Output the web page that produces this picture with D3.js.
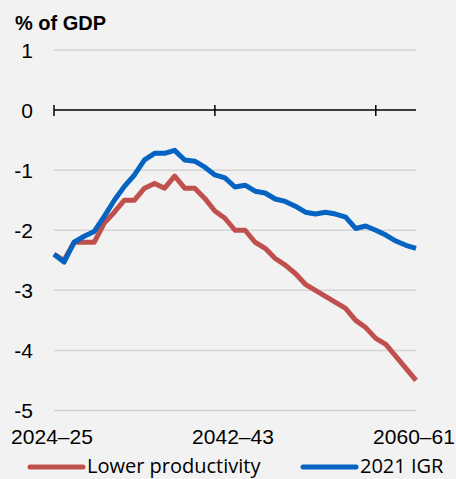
<!DOCTYPE html>
<html>
<head>
<meta charset="utf-8">
<script src="https://cdn.jsdelivr.net/npm/d3@7"></script>
<style>
	body { margin: 0; background: #f2f2f2; }
	svg { display: block; }
</style>
</head>
<body>
<svg id="chart" width="456" height="479"></svg>
<script>
const years = d3.range(2024, 2061).map(y => `${y}–${String((y + 1) % 100).padStart(2, "0")}`);
const lowerProductivity = [
	-2.4, -2.5, -2.2, -2.2, -2.2, -1.88, -1.7, -1.5, -1.5, -1.3,
	-1.22, -1.3, -1.1, -1.3, -1.3, -1.47, -1.68, -1.8, -2.0, -2.0,
	-2.2, -2.3, -2.47, -2.58, -2.72, -2.9, -3.0, -3.1, -3.2, -3.3,
	-3.5, -3.62, -3.8, -3.9, -4.1, -4.3, -4.5
];
const igr2021 = [
	-2.4, -2.53, -2.2, -2.1, -2.02, -1.77, -1.5, -1.27, -1.08, -0.83,
	-0.72, -0.72, -0.67, -0.83, -0.85, -0.95, -1.08, -1.13, -1.28, -1.25,
	-1.35, -1.38, -1.48, -1.52, -1.6, -1.7, -1.73, -1.7, -1.73, -1.78,
	-1.97, -1.93, -2.0, -2.08, -2.18, -2.25, -2.3
];
const yTicks = [1, 0, -1, -2, -3, -4, -5];
const xLabelYears = ["2024–25", "2042–43", "2060–61"];
const xTickYears = ["2024–25", "2040–41", "2056–57"];
const seriesNames = ["Lower productivity", "2021 IGR"];

const red = "#c0504d";
const blue = "#0563c1";

const svg = d3.select("#chart");
const x = d3.scalePoint().domain(years).range([54, 416]);
const y = d3.scaleLinear().domain([-5, 1]).range([410.5, 50]);

// gridlines
svg.append("g")
	.selectAll("line")
	.data(yTicks.filter(d => d !== 0))
	.join("line")
	.attr("x1", 54).attr("x2", 416)
	.attr("y1", d => y(d)).attr("y2", d => y(d))
	.attr("stroke", "#d4d4d4")
	.attr("stroke-width", 1.5);

// y labels
svg.append("g")
	.selectAll("text")
	.data(yTicks)
	.join("text")
	.attr("x", 33)
	.attr("y", d => y(d))
	.attr("dy", "0.36em")
	.attr("text-anchor", "end")
	.attr("font-family", "Liberation Sans, Arial, sans-serif")
	.attr("font-size", 21)
	.attr("fill", "#000")
	.text(d => d);

// zero axis with ticks
svg.append("line")
	.attr("x1", 54).attr("x2", 416)
	.attr("y1", y(0)).attr("y2", y(0))
	.attr("stroke", "#000").attr("stroke-width", 1.5);
svg.append("g")
	.selectAll("line")
	.data(xTickYears)
	.join("line")
	.attr("x1", d => x(d)).attr("x2", d => x(d))
	.attr("y1", y(0) - 5).attr("y2", y(0) + 6)
	.attr("stroke", "#000").attr("stroke-width", 1.5);

// x labels
svg.append("g")
	.selectAll("text")
	.data(xLabelYears)
	.join("text")
	.attr("x", d => x(d) - 2)
	.attr("y", 444)
	.attr("text-anchor", "middle")
	.attr("font-family", "Liberation Sans, Arial, sans-serif")
	.attr("font-size", 21)
	.attr("fill", "#000")
	.text(d => d);

// lines
const line = d3.line().x((d, i) => x(years[i])).y(d => y(d));
[[lowerProductivity, red], [igr2021, blue]].forEach(([data, color]) => {
	svg.append("path")
		.datum(data)
		.attr("d", line)
		.attr("fill", "none")
		.attr("stroke", color)
		.attr("stroke-width", 5)
		.attr("stroke-linejoin", "round");
});

// title
svg.append("text")
	.attr("x", 15).attr("y", 30)
	.attr("font-family", "Liberation Sans, Arial, sans-serif")
	.attr("font-size", 20)
	.attr("font-weight", "bold")
	.text("% of GDP");

// legend (nudged up so descenders stay inside the frame)
const legend = svg.append("g")
	.selectAll("g")
	.data(seriesNames)
	.join("g")
	.attr("transform", (d, i) => `translate(${[30, 303][i]},467)`);
legend.append("line")
	.attr("x1", 0).attr("x2", 53)
	.attr("stroke", (d, i) => [red, blue][i])
	.attr("stroke-width", 5)
	.attr("stroke-linecap", "round");
legend.append("text")
	.attr("x", 57).attr("y", 6)
	.attr("font-family", "Open Sans, sans-serif")
	.attr("font-size", 20)
	.attr("fill", "#000")
	.text(d => d);
</script>
</body>
</html>
